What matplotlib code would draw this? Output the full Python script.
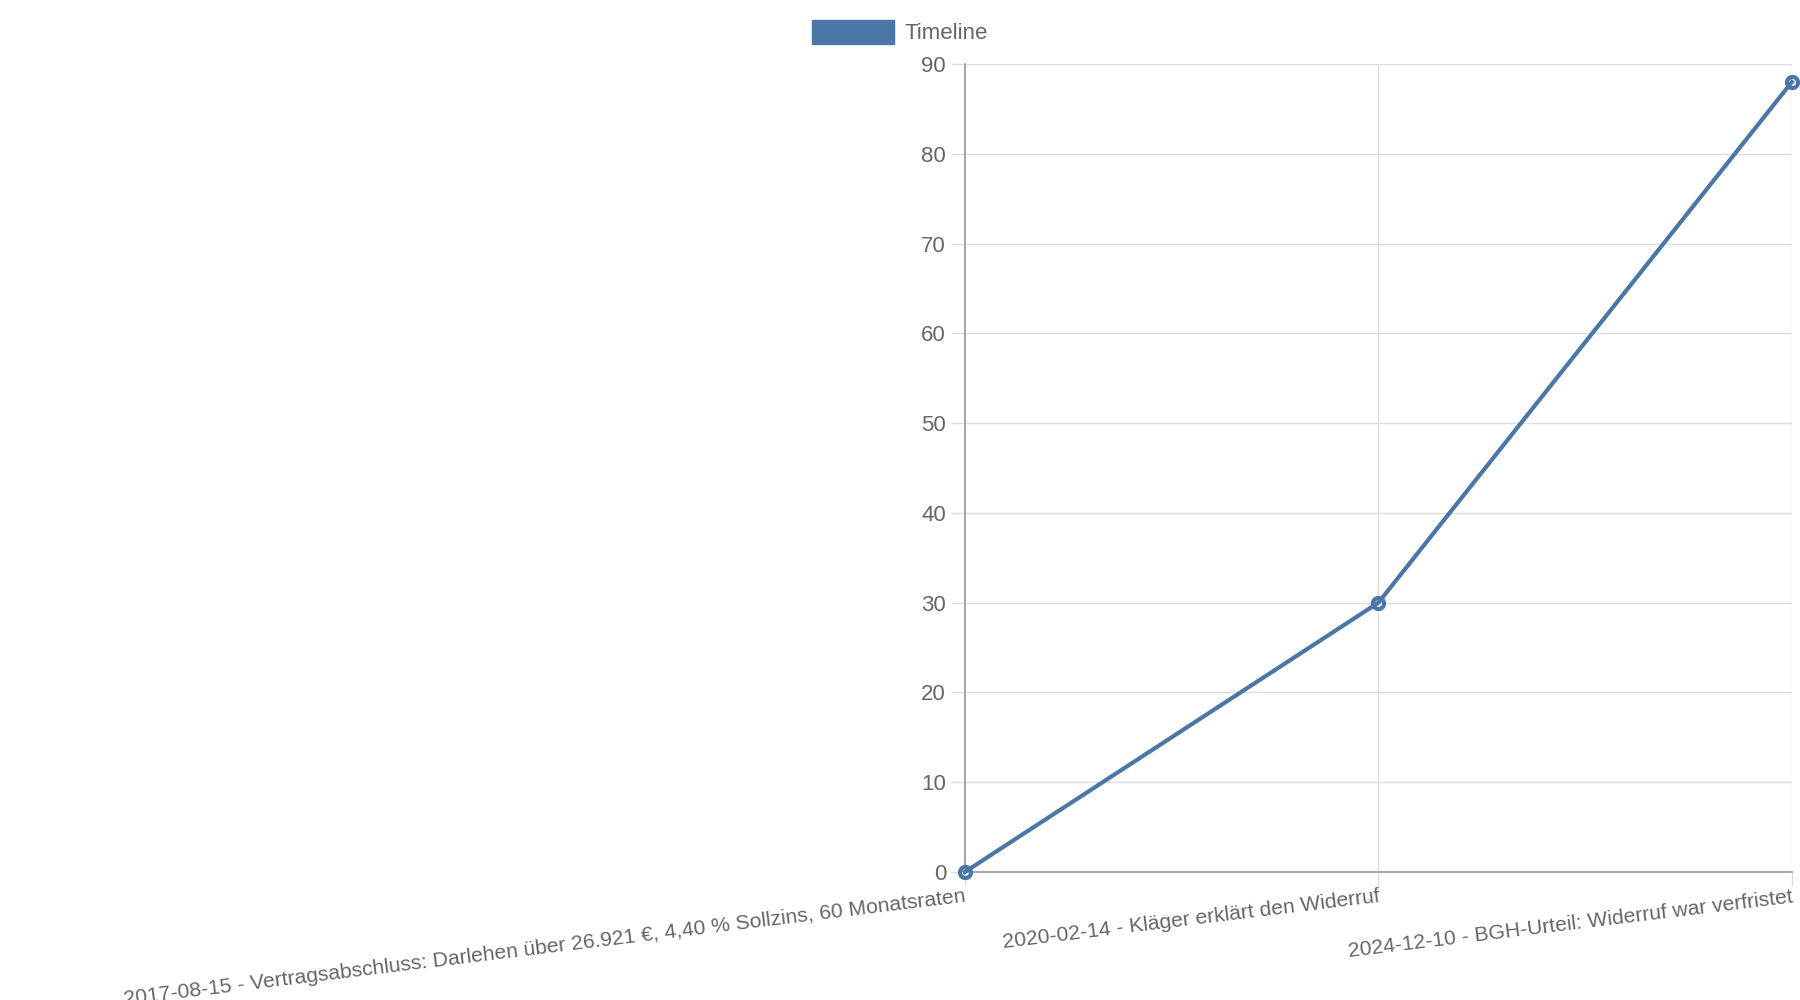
import matplotlib
matplotlib.use("Agg")
import matplotlib.pyplot as plt
from matplotlib.patches import Patch

plt.rcParams['font.family'] = ['Liberation Sans', 'DejaVu Sans']

labels = ["2017-08-15 - Vertragsabschluss: Darlehen über 26.921 €, 4,40 % Sollzins, 60 Monatsraten",
          "2020-02-14 - Kläger erklärt den Widerruf",
          "2024-12-10 - BGH-Urteil: Widerruf war verfristet"]
values = [0, 30, 88]
series_name = "Timeline"
color = "#4a76a8"

fig = plt.figure(figsize=(18, 10), dpi=100)
ax = fig.add_axes([0.536, 0.128, 0.4595, 0.808])
x = list(range(len(labels)))
ax.plot(x, values, color=color, lw=3, marker='o', ms=8, mfc='none', mew=3, clip_on=False, zorder=3)
ax.set_xlim(0, len(labels) - 1)
ax.set_ylim(0, 90)
ax.set_yticks(range(0, 91, 10))
ax.set_xticks(x)
ax.set_xticklabels(labels, rotation=7, ha='right', rotation_mode='anchor')
ax.grid(True, color='#dddddd', lw=1)
ax.set_axisbelow(True)
for s in ['top', 'right']:
    ax.spines[s].set_visible(False)
for s in ['left', 'bottom']:
    ax.spines[s].set_color('#999999')
    ax.spines[s].set_linewidth(1.2)
ax.tick_params(colors='#dddddd', labelcolor='#666666', labelsize=16, length=10, width=1)
ax.tick_params(axis='x', pad=1, labelsize=15.2)
fig.legend(handles=[Patch(color=color, label=series_name)], loc='center', bbox_to_anchor=(0.5, 0.968),
           frameon=False, fontsize=16, labelcolor='#666666', handlelength=3.7, handleheight=1.3,
           handletextpad=0.5)
fig.savefig("out.png")
